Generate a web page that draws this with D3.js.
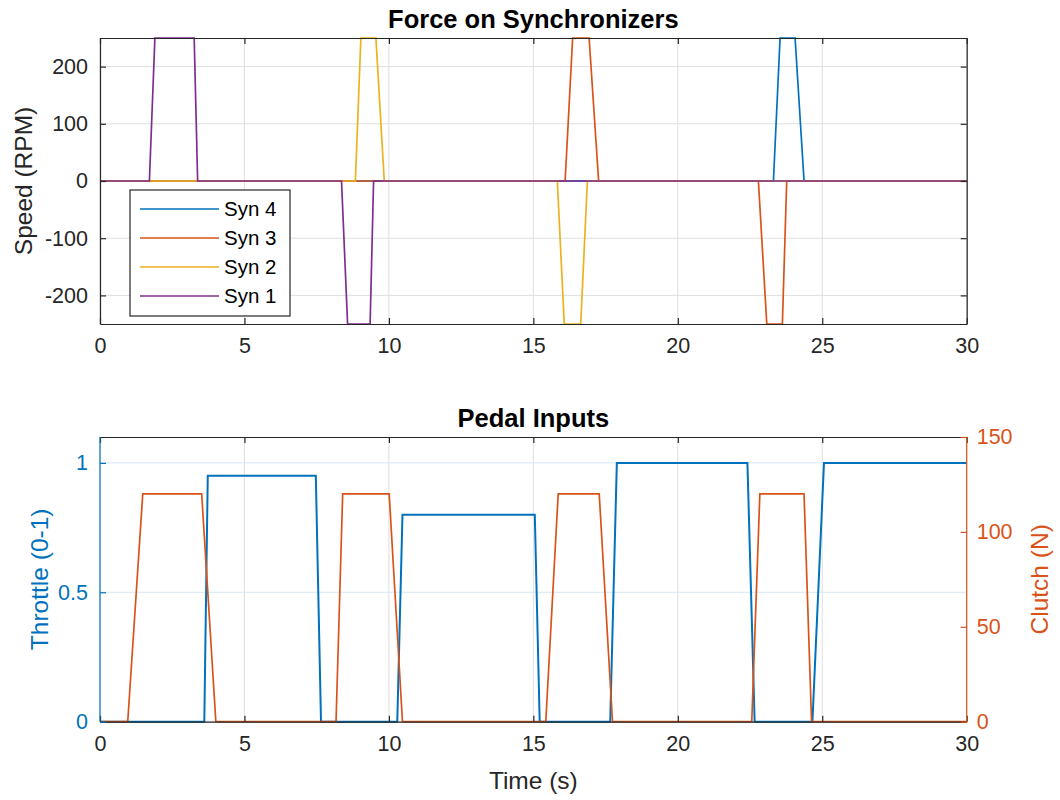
<!DOCTYPE html>
<html><head><meta charset="utf-8">
<script src="https://cdn.jsdelivr.net/npm/d3@7"></script>
<style>
body{margin:0;background:#fff;}
text{font-family:"Liberation Sans",Arial,Helvetica,sans-serif;}
</style></head>
<body>
<svg id="chart" width="1060" height="800"></svg>
<script>
// ---------- data ----------
const xTicks = [0,5,10,15,20,25,30];
const speedTicks = [-200,-100,0,100,200];
const throttleTicks = [0,0.5,1];
const clutchTicks = [0,50,100,150];

const syn1Time  = [0,1.71,1.90,3.26,3.38,8.36,8.57,9.35,9.47,30];
const syn1Speed = [0,0,250,250,0,0,-250,-250,0,0];
const syn2Time  = [0,8.84,9.03,9.55,9.84,15.83,16.07,16.64,16.87,30];
const syn2Speed = [0,0,250,250,0,0,-250,-250,0,0];
const syn3Time  = [0,16.10,16.36,16.93,17.26,22.79,23.08,23.62,23.77,30];
const syn3Speed = [0,0,250,250,0,0,-250,-250,0,0];
const syn4Time  = [0,23.31,23.54,24.06,24.37,30];
const syn4Speed = [0,0,250,250,0,0];

const throttleTime  = [0,3.61,3.73,7.47,7.65,10.29,10.47,15.05,15.22,17.66,17.89,22.41,22.66,24.66,25.06,30];
const throttleValue = [0,0,0.95,0.95,0,0,0.8,0.8,0,0,1,1,0,0,1,1];
const clutchTime  = [0,0.96,1.48,3.52,4.01,8.17,8.40,10.01,10.47,15.43,15.86,17.28,17.74,22.56,22.84,24.37,24.63,30];
const clutchValue = [0,0,120,120,0,0,120,120,0,0,120,120,0,0,120,120,0,0];

const synSeries = [
  {name:"Syn 4", t:syn4Time, v:syn4Speed, color:"#0072BD"},
  {name:"Syn 3", t:syn3Time, v:syn3Speed, color:"#D95319"},
  {name:"Syn 2", t:syn2Time, v:syn2Speed, color:"#EDB120"},
  {name:"Syn 1", t:syn1Time, v:syn1Speed, color:"#7E2F8E"}
];

// ---------- layout ----------
const svg = d3.select("#chart");
const L = 100, R = 966.7;
const top1 = 38, bot1 = 324;
const top2 = 437, bot2 = 721.7;
const dark = "#262626", gridGray = "#dfdfdf";
const blue = "#0072BD", orange = "#D95319";
const tickFont = 21.5, labelFont = 24.5, titleFont = 25.5;
const fmtInt = d => String(d); // plain hyphen-minus like the reference

const x1 = d3.scaleLinear().domain([0,30]).range([L,R]);
const y1 = d3.scaleLinear().domain([-250,250]).range([bot1,top1]);
const x2 = d3.scaleLinear().domain([0,30]).range([L,R]);
const yL = d3.scaleLinear().domain([0,1.1]).range([bot2,top2]);
const yR = d3.scaleLinear().domain([0,150]).range([bot2,top2]);

const defs = svg.append("defs");
defs.append("clipPath").attr("id","c1").append("rect").attr("x",L).attr("y",top1-2).attr("width",R-L).attr("height",bot1-top1+4);
defs.append("clipPath").attr("id","c2").append("rect").attr("x",L).attr("y",top2-2).attr("width",R-L).attr("height",bot2-top2+4);

// ---------- top chart ----------
const g1 = svg.append("g");
g1.selectAll(".gx").data(xTicks).join("line")
  .attr("x1",d=>x1(d)).attr("x2",d=>x1(d)).attr("y1",top1).attr("y2",bot1)
  .attr("stroke",gridGray).attr("stroke-width",1);
g1.selectAll(".gy").data(speedTicks).join("line")
  .attr("x1",L).attr("x2",R).attr("y1",d=>y1(d)).attr("y2",d=>y1(d))
  .attr("stroke",gridGray).attr("stroke-width",1);

const line1 = d3.line().x(d=>x1(d[0])).y(d=>y1(d[1]));
const lg1 = g1.append("g").attr("clip-path","url(#c1)");
synSeries.forEach(s=>{
  lg1.append("path").attr("d", line1(s.t.map((t,i)=>[t,s.v[i]])))
    .attr("fill","none").attr("stroke",s.color).attr("stroke-width",1.7).attr("stroke-linejoin","miter");
});

const ax1b = d3.axisBottom(x1).tickValues(xTicks).tickSizeInner(-6).tickSizeOuter(0).tickPadding(14).tickFormat(fmtInt);
const ax1t = d3.axisTop(x1).tickValues(xTicks).tickSizeInner(-6).tickSizeOuter(0).tickFormat("");
const ay1l = d3.axisLeft(y1).tickValues(speedTicks).tickSizeInner(-6).tickSizeOuter(0).tickPadding(12).tickFormat(fmtInt);
const ay1r = d3.axisRight(y1).tickValues(speedTicks).tickSizeInner(-6).tickSizeOuter(0).tickFormat("");
function styleAxis(sel, color){
  sel.select(".domain").attr("stroke",color).attr("stroke-width",1.2);
  sel.selectAll(".tick line").attr("stroke",color).attr("stroke-width",1.2);
  sel.selectAll(".tick text").attr("fill",color).style("font-size",tickFont+"px")
     .style("font-family","'Liberation Sans',Arial,Helvetica,sans-serif");
}
styleAxis(g1.append("g").attr("transform",`translate(0,${bot1})`).call(ax1b), dark);
styleAxis(g1.append("g").attr("transform",`translate(0,${top1})`).call(ax1t), dark);
styleAxis(g1.append("g").attr("transform",`translate(${L},0)`).call(ay1l), dark);
styleAxis(g1.append("g").attr("transform",`translate(${R},0)`).call(ay1r), dark);

g1.append("text").attr("x",(L+R)/2).attr("y",28).attr("text-anchor","middle")
  .attr("fill","#000").style("font-size",titleFont+"px").style("font-weight","bold").text("Force on Synchronizers");
g1.append("text").attr("transform",`translate(32,${(top1+bot1)/2}) rotate(-90)`).attr("text-anchor","middle")
  .attr("fill",dark).style("font-size",labelFont+"px").text("Speed (RPM)");

// legend
const lgX = 130, lgY = 190, lgW = 160, lgH = 126;
const leg = g1.append("g");
leg.append("rect").attr("x",lgX).attr("y",lgY).attr("width",lgW).attr("height",lgH)
  .attr("fill","#fff").attr("stroke",dark).attr("stroke-width",1.2);
synSeries.forEach((s,i)=>{
  const yy = lgY + 19 + i*29;
  leg.append("line").attr("x1",lgX+10).attr("x2",lgX+89).attr("y1",yy).attr("y2",yy)
    .attr("stroke",s.color).attr("stroke-width",1.7);
  leg.append("text").attr("x",lgX+94).attr("y",yy).attr("dy","0.36em").attr("fill","#000")
    .style("font-size","20.5px").text(s.name);
});

// ---------- bottom chart ----------
const g2 = svg.append("g");
g2.selectAll(".gx").data(xTicks).join("line")
  .attr("x1",d=>x2(d)).attr("x2",d=>x2(d)).attr("y1",top2).attr("y2",bot2)
  .attr("stroke",gridGray).attr("stroke-width",1);
g2.selectAll(".gy").data(throttleTicks).join("line")
  .attr("x1",L).attr("x2",R).attr("y1",d=>yL(d)).attr("y2",d=>yL(d))
  .attr("stroke","#d6e6f4").attr("stroke-width",1);

const lg2 = g2.append("g").attr("clip-path","url(#c2)");
const lineT = d3.line().x(d=>x2(d[0])).y(d=>yL(d[1]));
const lineC = d3.line().x(d=>x2(d[0])).y(d=>yR(d[1]));

const ax2t = d3.axisTop(x2).tickValues(xTicks).tickSizeInner(-6).tickSizeOuter(0).tickFormat("");
const ax2b = d3.axisBottom(x2).tickValues(xTicks).tickSizeInner(-6).tickSizeOuter(0).tickPadding(14).tickFormat(fmtInt);
styleAxis(g2.append("g").attr("transform",`translate(0,${top2})`).call(ax2t), dark);
styleAxis(g2.append("g").attr("transform",`translate(0,${bot2})`).call(ax2b), dark);

lg2.append("path").attr("d", lineT(throttleTime.map((t,i)=>[t,throttleValue[i]])))
  .attr("fill","none").attr("stroke",blue).attr("stroke-width",2).attr("stroke-linejoin","miter");
lg2.append("path").attr("d", lineC(clutchTime.map((t,i)=>[t,clutchValue[i]])))
  .attr("fill","none").attr("stroke",orange).attr("stroke-width",1.7).attr("stroke-linejoin","miter");

const ayL = d3.axisLeft(yL).tickValues(throttleTicks).tickSizeInner(-6).tickSizeOuter(0).tickPadding(12).tickFormat(fmtInt);
const ayR = d3.axisRight(yR).tickValues(clutchTicks).tickSizeInner(-6).tickSizeOuter(0).tickPadding(10).tickFormat(fmtInt);
const aL = g2.append("g").attr("transform",`translate(${L},0)`).call(ayL);
styleAxis(aL, blue);
aL.select(".domain").attr("d",`M0,${top2}V${bot2}`);
const aR = g2.append("g").attr("transform",`translate(${R},0)`).call(ayR);
styleAxis(aR, orange);
aR.select(".domain").attr("d",`M0,${top2}V${bot2}`);

g2.append("text").attr("x",(L+R)/2).attr("y",427).attr("text-anchor","middle")
  .attr("fill","#000").style("font-size",titleFont+"px").style("font-weight","bold").text("Pedal Inputs");
g2.append("text").attr("x",(L+R)/2).attr("y",789).attr("text-anchor","middle")
  .attr("fill",dark).style("font-size",labelFont+"px").text("Time (s)");
g2.append("text").attr("transform",`translate(48,${(top2+bot2)/2}) rotate(-90)`).attr("text-anchor","middle")
  .attr("fill",blue).style("font-size",labelFont+"px").text("Throttle (0-1)");
g2.append("text").attr("transform",`translate(1048,${(top2+bot2)/2}) rotate(-90)`).attr("text-anchor","middle")
  .attr("fill",orange).style("font-size",labelFont+"px").text("Clutch (N)");
</script>
</body></html>
